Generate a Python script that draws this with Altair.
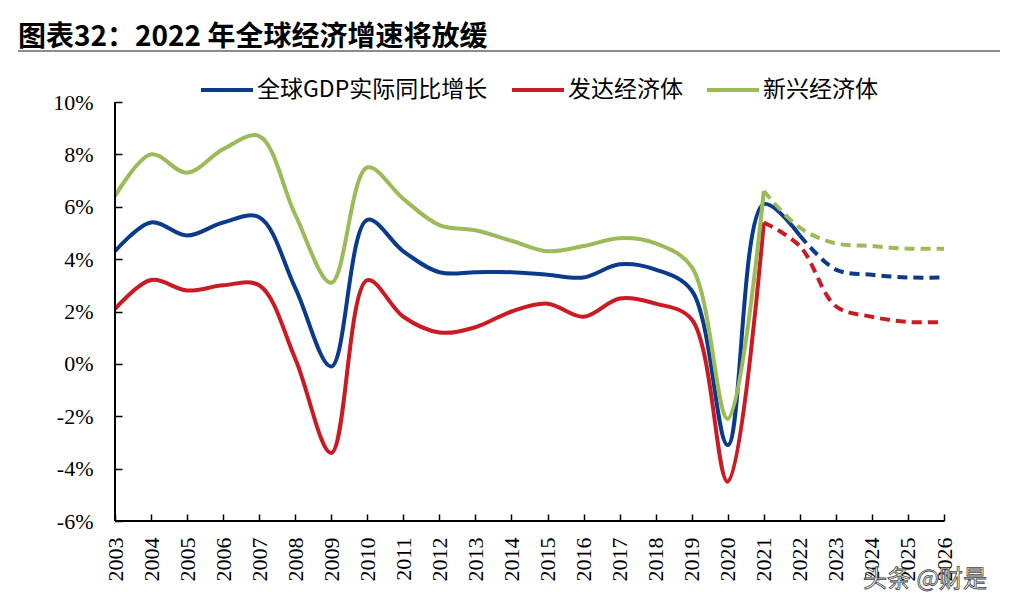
import altair as alt
import pandas as pd

# ---- data ----
years = list(range(2003, 2027))
series_names = ["全球GDP实际同比增长", "发达经济体", "新兴经济体"]
global_gdp = [4.3, 5.4, 4.9, 5.4, 5.6, 2.9, -0.1, 5.5, 4.3, 3.5, 3.5, 3.5,
              3.4, 3.3, 3.8, 3.6, 2.8, -3.1, 6.1, 4.9, 3.6, 3.4, 3.3, 3.3]
advanced = [2.1, 3.2, 2.8, 3.0, 3.0, 0.2, -3.4, 3.2, 1.8, 1.2, 1.4, 2.0,
            2.3, 1.8, 2.5, 2.3, 1.7, -4.5, 5.4, 4.5, 2.2, 1.8, 1.6, 1.6]
emerging = [6.4, 8.0, 7.3, 8.2, 8.7, 5.7, 3.1, 7.5, 6.3, 5.3, 5.1, 4.7,
            4.3, 4.5, 4.8, 4.6, 3.7, -2.1, 6.6, 5.2, 4.6, 4.5, 4.4, 4.4]
solid_until = [2022, 2021, 2021]  # last year drawn solid; forecasts dashed after
colors = ["#0a3a8c", "#cc1a24", "#9bbb59"]
y_ticks = [-6, -4, -2, 0, 2, 4, 6, 8, 10]
title_text = "图表32：2022 年全球经济增速将放缓"
watermark = "头条 @财是"

rows_solid, rows_dash = [], []
for name, vals, end in zip(series_names, [global_gdp, advanced, emerging], solid_until):
    for yr, v in zip(years, vals):
        if yr <= end:
            rows_solid.append({"year": yr, "value": v, "series": name})
        if yr >= end:
            rows_dash.append({"year": yr, "value": v, "series": name})
df_solid = pd.DataFrame(rows_solid)
df_dash = pd.DataFrame(rows_dash)

W, H = 829, 419
FONT_NUM = "Liberation Serif"
FONT_CJK = "Noto Sans CJK SC"

x_enc = alt.X(
    "year:Q",
    scale=alt.Scale(domain=[2003, 2026], nice=False, zero=False),
    axis=alt.Axis(values=years, format="d", labelAngle=270, grid=False, domain=False,
                  offset=-7, tickSize=7, tickColor="black", tickWidth=1.5,
                  labelFont=FONT_NUM, labelFontSize=22, labelColor="black",
                  labelPadding=16, title=None, labelOverlap=False),
)
y_enc = alt.Y(
    "value:Q",
    scale=alt.Scale(domain=[-6, 10], nice=False, zero=False),
    axis=alt.Axis(values=y_ticks, labelExpr="datum.value + '%'", grid=False, domain=False,
                  offset=-7, tickSize=7, tickColor="black", tickWidth=1.5,
                  labelFont=FONT_NUM, labelFontSize=22, labelColor="black",
                  labelPadding=22, title=None),
)
color_enc = alt.Color(
    "series:N",
    sort=series_names,
    scale=alt.Scale(domain=series_names, range=colors),
    legend=alt.Legend(
        title=None, orient="none", direction="horizontal", legendX=84, legendY=-40,
        symbolType="stroke", symbolSize=2704, symbolStrokeWidth=4, symbolDash=[1, 0],
        labelFont=FONT_CJK, labelFontSize=23, labelColor="black", labelOffset=2,
        columnPadding=16, labelLimit=400,
    ),
)

solid = alt.Chart(df_solid).mark_line(interpolate="catmull-rom", strokeWidth=4).encode(
    x=x_enc, y=y_enc, color=color_enc
)
dashed = alt.Chart(df_dash).mark_line(
    interpolate="catmull-rom", strokeWidth=4, strokeDash=[10, 6]
).encode(x=x_enc, y=y_enc, color=color_enc)

one = pd.DataFrame({"t": [title_text], "w": [watermark]})
axis_y_line = alt.Chart(one).mark_rule(color="black", strokeWidth=2).encode(
    x=alt.value(0), y=alt.value(0), y2=alt.value(H)
)
axis_x_line = alt.Chart(one).mark_rule(color="black", strokeWidth=2).encode(
    x=alt.value(0), x2=alt.value(W), y=alt.value(H)
)
title_line = alt.Chart(one).mark_rule(color="#8c8c8c", strokeWidth=2).encode(
    x=alt.value(-97), x2=alt.value(885), y=alt.value(-51)
)
title = alt.Chart(one).mark_text(
    align="left", baseline="alphabetic", font=FONT_CJK, fontSize=28,
    fontWeight="bold", color="black"
).encode(text="t:N", x=alt.value(-97), y=alt.value(-56))
wm = alt.Chart(one).mark_text(
    align="left", baseline="alphabetic", font=FONT_CJK, fontSize=24,
    fill="white", stroke="#444444", strokeWidth=0.8
).encode(text="w:N", x=alt.value(748), y=alt.value(485))

chart = alt.layer(
    title_line, title, solid, dashed, axis_y_line, axis_x_line, wm
).properties(
    width=W, height=H,
    padding={"left": 107, "top": 94, "right": 64, "bottom": 81},
    autosize=alt.AutoSizeParams(type="none"),
    background="white",
).configure_view(stroke=None)

chart.save("out.html", embed_options={"renderer": "svg", "actions": False})
